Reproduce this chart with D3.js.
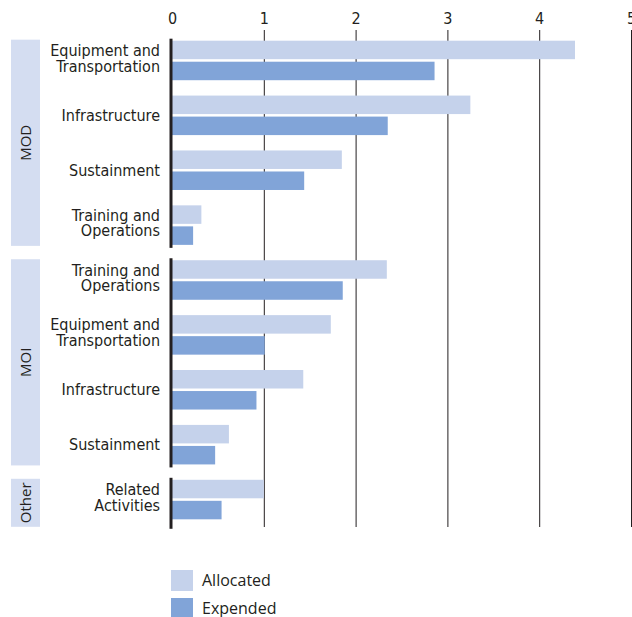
<!DOCTYPE html>
<html>
<head>
<meta charset="utf-8">
<script src="https://cdn.jsdelivr.net/npm/d3@7"></script>
<style>
    body { margin: 0; background: #fff; }
    .cond { font-family: "DejaVu Sans Condensed", "DejaVu Sans", sans-serif; font-stretch: condensed; }
    .reg { font-family: "Open Sans", "Noto Sans", sans-serif; }
</style>
</head>
<body>
<div id="chart"></div>
<script>
// data (billions)
const groups = ["MOD", "MOI", "Other"]
const categories = [
    "Equipment and\nTransportation",
    "Infrastructure",
    "Sustainment",
    "Training and\nOperations",
    "Training and\nOperations",
    "Equipment and\nTransportation",
    "Infrastructure",
    "Sustainment",
    "Related\nActivities",
]
const categoryGroup = ["MOD", "MOD", "MOD", "MOD", "MOI", "MOI", "MOI", "MOI", "Other"]
const allocated = [4.39, 3.25, 1.85, 0.32, 2.34, 1.73, 1.43, 0.62, 1.0]
const expended = [2.86, 2.35, 1.44, 0.23, 1.86, 1.01, 0.92, 0.47, 0.54]
const seriesNames = ["Allocated", "Expended"]
const seriesColors = ["#c5d2eb", "#81a4d8"]
const xTicks = [0, 1, 2, 3, 4, 5]

const width = 632
const height = 617
const ink = "#231f20"

const rows = categories.map((c, i) => ({
    id: i,
    label: c,
    group: categoryGroup[i],
    values: [allocated[i], expended[i]],
}))

const svg = d3
    .select("#chart")
    .append("svg")
    .attr("width", width)
    .attr("height", height)

const x = d3.scaleLinear().domain([0, 5]).range([172, 631])

const y = d3
    .scaleBand()
    .domain(rows.map((d) => d.id))
    .range([33, 527])
    .paddingInner(0.28)
    .paddingOuter(0.14)

const ySeries = d3
    .scaleBand()
    .domain(seriesNames)
    .range([0, y.bandwidth()])
    .paddingInner(0.12)

const color = d3.scaleOrdinal().domain(seriesNames).range(seriesColors)

// grid + top tick labels
const axis = svg
    .append("g")
    .attr("transform", "translate(0,30)")
    .call(
        d3
            .axisTop(x)
            .tickValues(xTicks)
            .tickSize(-497)
            .tickPadding(6)
            .tickFormat(d3.format("d")),
    )
axis.select(".domain").remove()
axis.selectAll(".tick line").attr("stroke", ink).attr("stroke-width", 1)
axis.selectAll(".tick").filter((d) => d === 0).select("line").remove()
axis.selectAll(".tick text")
    .attr("class", "cond")
    .attr("fill", ink)
    .style("font-size", "16px")

// group extents
const groupInfo = groups.map((g) => {
    const ids = rows.filter((r) => r.group === g).map((r) => r.id)
    const top = y(ids[0]) - 1
    const bottom = Math.max(y(ids[ids.length - 1]) + y.bandwidth() + 1, top + 48)
    return { name: g, top: top, bottom: bottom }
})

svg.append("g")
    .selectAll("rect")
    .data(groupInfo)
    .enter()
    .append("rect")
    .attr("x", 11)
    .attr("y", (d) => d.top)
    .attr("width", 29)
    .attr("height", (d) => d.bottom - d.top)
    .attr("fill", "#d4ddf1")

svg.append("g")
    .selectAll("text")
    .data(groupInfo)
    .enter()
    .append("text")
    .attr("class", "reg")
    .attr("transform", (d) => "translate(26," + (d.top + d.bottom) / 2 + ") rotate(-90)")
    .attr("text-anchor", "middle")
    .attr("dy", "0.36em")
    .attr("fill", ink)
    .style("font-size", "15px")
    .text((d) => d.name)

// bars
const rowG = svg
    .append("g")
    .selectAll("g")
    .data(rows)
    .enter()
    .append("g")
    .attr("transform", (d) => "translate(0," + y(d.id) + ")")

rowG.selectAll("rect")
    .data((d) => d.values.map((v, i) => ({ key: seriesNames[i], value: v })))
    .enter()
    .append("rect")
    .attr("x", x(0))
    .attr("y", (d) => ySeries(d.key))
    .attr("width", (d) => x(d.value) - x(0))
    .attr("height", ySeries.bandwidth())
    .attr("fill", (d) => color(d.key))

// category labels
rowG.append("text")
    .attr("class", "cond")
    .attr("text-anchor", "end")
    .attr("fill", ink)
    .style("font-size", "16px")
    .each(function (d) {
        const lines = d.label.split("\n")
        const mid = y.bandwidth() / 2
        const offsets = lines.length === 1 ? [0] : [-10, 5.5]
        d3.select(this)
            .selectAll("tspan")
            .data(lines)
            .enter()
            .append("tspan")
            .attr("x", 160)
            .attr("y", (l, i) => mid + offsets[i])
            .attr("dy", "0.35em")
            .text((l) => l)
    })

// zero axis, broken per group
svg.append("g")
    .selectAll("line")
    .data(groupInfo)
    .enter()
    .append("line")
    .attr("x1", x(0) - 1)
    .attr("x2", x(0) - 1)
    .attr("y1", (d) => d.top - 1)
    .attr("y2", (d) => d.bottom + 2)
    .attr("stroke", ink)
    .attr("stroke-width", 3)

// legend
const legend = svg
    .append("g")
    .selectAll("g")
    .data(seriesNames)
    .enter()
    .append("g")
    .attr("transform", (d, i) => "translate(171," + (570 + i * 28) + ")")

legend.append("rect")
    .attr("width", 22)
    .attr("height", 21)
    .attr("fill", (d) => color(d))

legend.append("text")
    .attr("class", "reg")
    .attr("x", 31)
    .attr("y", 16)
    .attr("fill", ink)
    .style("font-size", "16px")
    .text((d) => d)
</script>
</body>
</html>
